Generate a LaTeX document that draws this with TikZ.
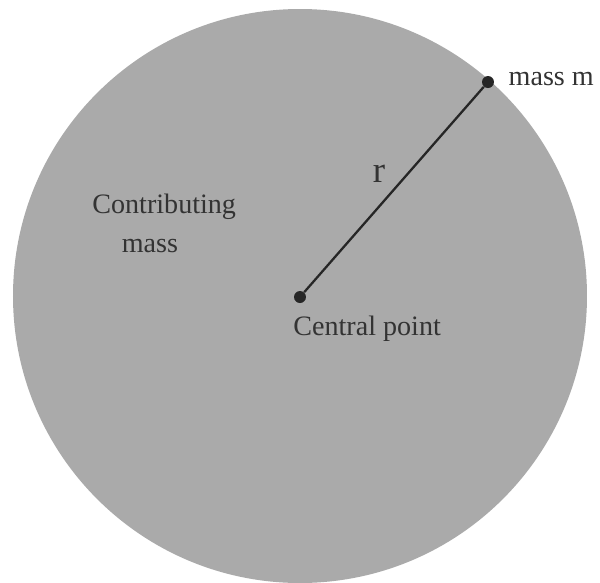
\documentclass[tikz,border=0pt]{standalone}
\usepackage{fontspec}
\setmainfont{Liberation Serif}
\usetikzlibrary{positioning}
\definecolor{diskgray}{RGB}{170,170,170}

\begin{document}
\begin{tikzpicture}[
  x=0.02cm, y=-0.02cm,
  disk/.style={fill=diskgray, draw=none},
  dot/.style={circle, fill=black!85, inner sep=0pt, minimum size=0.24cm},
  lbl/.style={font=\fontsize{16}{22}\selectfont, text=black!80, inner sep=0pt},
  rad/.style={line width=1.3pt, black!85}
]
\useasboundingbox[fill=white] (0,0) rectangle (600,583);
\fill[disk] (300,296) circle[radius=287*0.02cm];

\node[dot] (c) at (300,297) {};
\node[dot] (m) at (488,82) {};
\draw[rad] (c) -- (m);

\node[lbl, right=0.28cm of m, yshift=0.05cm] (ml) {mass m};
\node[lbl, anchor=base west] (cp) at (293,335) {Central point};
\node[lbl, font=\fontsize{21}{24}\selectfont] (r) at (379,174) {r};
\node[lbl, align=left, anchor=base west] (cm) at (92,252) {Contributing\\\hspace*{1.05em}mass};
\end{tikzpicture}
\end{document}
